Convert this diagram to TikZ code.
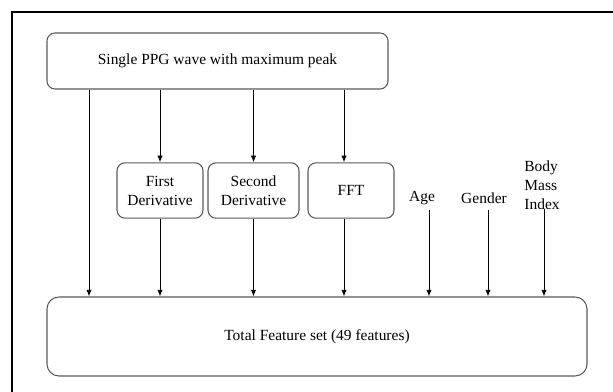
\documentclass[tikz,border=0pt]{standalone}
\usepackage{fontspec}
\setmainfont{Liberation Serif}
\usetikzlibrary{arrows.meta}
\begin{document}
\begin{tikzpicture}[x=0.75pt,y=-0.75pt,
    box/.style={draw=black!65,line width=0.8pt,rounded corners=6pt,align=center,inner sep=0pt},
    feed/.style={-{Latex[length=5pt,width=4pt]},line width=0.7pt},
    font=\fontsize{11.6}{14.2}\selectfont]
  \useasboundingbox (0,0) rectangle (613,392);
  \draw [line width=1.6pt] (12,392) -- (12,12) -- (613,12);
  \node [box,minimum width=255.75pt,minimum height=42pt] (wave) at (217.5,61) {Single PPG wave with maximum peak};
  \node [box,minimum width=64.5pt,minimum height=41.5pt] (first) at (160,190.5) {First\\Derivative};
  \node [box,minimum width=68.25pt,minimum height=41.5pt] (second) at (253.5,190.5) {Second\\Derivative};
  \node [box,minimum width=64.5pt,minimum height=41.5pt] (fft) at (351,190.5) {FFT};
  \node [box,rounded corners=9pt,minimum width=405pt,minimum height=59.25pt] (total) at (317,336.5) {Total Feature set (49 features)};
  \node (age) at (422,198) {Age};
  \node (gender) at (484,198) {Gender};
  \node [align=left] (bmi) at (542,185) {Body\\Mass\\Index};
  \coordinate (rawx) at (89,0);
  \coordinate (fftx) at (344,0);
  \coordinate (agetop) at (429,210);
  \coordinate (gendertop) at (488,210);
  \coordinate (bmitop) at (544,209);
  \draw [feed] (wave.south -| rawx) -- (total.north -| rawx);
  \draw [feed] (wave.south -| first.north) -- (first.north);
  \draw [feed] (wave.south -| second.north) -- (second.north);
  \draw [feed] (wave.south -| fftx) -- (fft.north -| fftx);
  \draw [feed] (first.south) -- (total.north -| first.south);
  \draw [feed] (second.south) -- (total.north -| second.south);
  \draw [feed] (fft.south -| fftx) -- (total.north -| fftx);
  \draw [feed] (agetop) -- (total.north -| agetop);
  \draw [feed] (gendertop) -- (total.north -| gendertop);
  \draw [feed] (bmitop) -- (total.north -| bmitop);
\end{tikzpicture}
\end{document}
